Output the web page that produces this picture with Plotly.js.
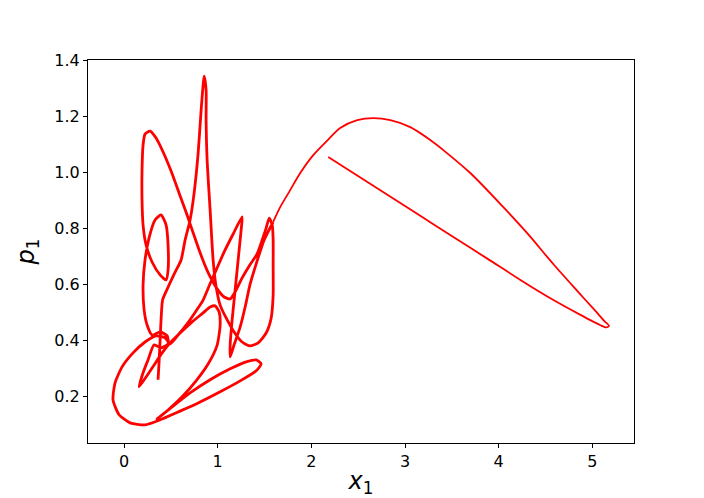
<!DOCTYPE html>
<html>
<head>
<meta charset="utf-8">
<script src="https://cdn.plot.ly/plotly-3.0.1.min.js"></script>
<style>html,body{margin:0;padding:0;background:#fff;}#chart{width:704px;height:498px;}</style>
</head>
<body>
<div id="chart"></div>
<script>
// Slow, tangled part of the trajectory (x1, p1)
const tangleX = [0.363,0.374,0.385,0.395,0.412,0.470,0.540,0.609,0.652,0.705,0.748,0.791,0.823,0.844,0.855,0.876,0.876,0.887,0.919,0.951,0.983,1.026,1.090,1.175,1.261,1.346,1.432,1.517,1.571,1.592,1.592,1.592,1.582,1.550,1.517,1.475,1.421,1.336,1.261,1.186,1.133,1.069,0.994,0.899,0.813,0.738,0.673,0.588,0.502,0.417,0.342,0.278,0.224,0.203,0.192,0.192,0.203,0.235,0.299,0.385,0.449,0.470,0.470,0.449,0.395,0.331,0.267,0.224,0.203,0.214,0.246,0.299,0.385,0.460,0.470,0.395,0.321,0.256,0.203,0.160,0.235,0.321,0.406,0.492,0.598,0.727,0.844,0.919,0.972,1.015,1.026,0.994,0.899,0.769,0.620,0.470,0.353,0.513,0.705,0.919,1.133,1.304,1.411,1.464,1.411,1.240,1.026,0.791,0.577,0.385,0.224,0.064,-0.053,-0.118,-0.096,-0.021,0.096,0.224,0.342,0.438,0.492,0.577,0.673,0.769,0.844,0.908,0.983,1.069,1.165,1.261,1.250,1.218,1.186,1.154,1.133,1.133,1.175,1.240,1.293,1.346,1.421,1.496,1.592];
const tangleY = [0.259,0.323,0.401,0.473,0.545,0.590,0.640,0.687,0.759,0.830,0.926,1.069,1.223,1.312,1.344,1.294,1.187,1.044,0.866,0.687,0.591,0.526,0.480,0.430,0.394,0.380,0.391,0.426,0.480,0.562,0.669,0.759,0.812,0.837,0.801,0.759,0.709,0.666,0.623,0.573,0.548,0.555,0.584,0.641,0.712,0.784,0.848,0.926,1.005,1.073,1.123,1.148,1.137,1.098,1.009,0.901,0.812,0.741,0.680,0.634,0.616,0.651,0.741,0.812,0.848,0.830,0.766,0.687,0.598,0.509,0.455,0.419,0.430,0.416,0.387,0.373,0.384,0.330,0.284,0.234,0.269,0.312,0.355,0.391,0.426,0.466,0.498,0.519,0.523,0.501,0.455,0.383,0.316,0.255,0.198,0.151,0.119,0.162,0.212,0.259,0.298,0.323,0.330,0.316,0.291,0.255,0.216,0.176,0.144,0.116,0.098,0.105,0.134,0.187,0.248,0.305,0.355,0.394,0.416,0.409,0.387,0.419,0.459,0.505,0.544,0.594,0.651,0.716,0.780,0.841,0.794,0.687,0.580,0.473,0.384,0.341,0.384,0.448,0.519,0.601,0.684,0.759,0.823];

// Fast part: big arc out to the right and the straight return
const flightX = [1.592,1.667,1.774,1.881,2.020,2.169,2.308,2.490,2.661,2.843,3.056,3.270,3.409,3.697,4.050,4.307,4.585,4.841,5.033,5.129,5.178,5.150,5.087,4.873,4.585,4.232,3.879,3.516,3.163,2.180];
const flightY = [0.823,0.876,0.937,0.998,1.062,1.114,1.159,1.187,1.194,1.187,1.162,1.116,1.080,0.998,0.876,0.782,0.672,0.576,0.505,0.469,0.452,0.446,0.454,0.491,0.544,0.616,0.692,0.769,0.845,1.055];

const xTicks = [0,1,2,3,4,5];
const yTicks = [0.2,0.4,0.6,0.8,1.0,1.2,1.4];

const traces = [
  {x: tangleX, y: tangleY, type:'scatter', mode:'lines', line:{color:'#ff0000', width:2.8, shape:'spline', smoothing:0.6}, hoverinfo:'skip'},
  {x: flightX, y: flightY, type:'scatter', mode:'lines', line:{color:'#ff0000', width:1.8, shape:'spline', smoothing:0.8}, hoverinfo:'skip'}
];

const axisCommon = {
  showline:true, mirror:true, linecolor:'#000', linewidth:1,
  ticks:'outside', ticklen:4, tickwidth:1, tickcolor:'#000',
  showgrid:false, zeroline:false,
  tickfont:{family:'DejaVu Sans', size:16, color:'#000'}
};

const layout = {
  width:704, height:498,
  margin:{l:88, r:70.4, t:59.8, b:54.8},
  paper_bgcolor:'#fff', plot_bgcolor:'#fff',
  showlegend:false,
  font:{family:'DejaVu Sans', color:'#000'},
  xaxis: Object.assign({}, axisCommon, {
    range:[-0.385, 5.445], tickvals:xTicks, ticktext:xTicks.map(String),
    title:{text:'<i>x</i><sub>1</sub>', font:{family:'DejaVu Sans', size:24, color:'#000'}, standoff:9}
  }),
  yaxis: Object.assign({}, axisCommon, {
    range:[0.033, 1.402], tickvals:yTicks, ticktext:yTicks.map(v=>v.toFixed(1)),
    title:{text:'<i>p</i><sub>1</sub>', font:{family:'DejaVu Sans', size:24, color:'#000'}, standoff:12}
  })
};

Plotly.newPlot('chart', traces, layout, {staticPlot:true, displayModeBar:false});
</script>
</body>
</html>
